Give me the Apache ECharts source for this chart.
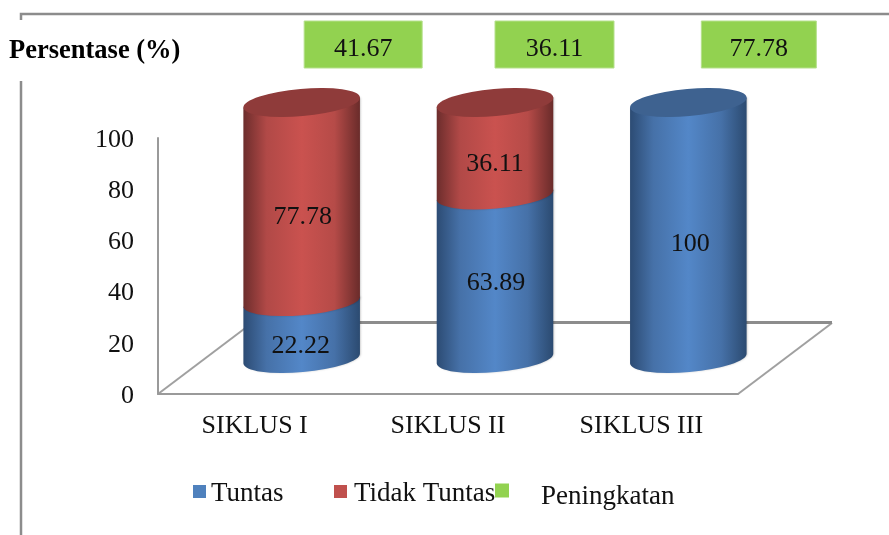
<!DOCTYPE html>
<html>
<head>
<meta charset="utf-8">
<title>Persentase</title>
<script src="https://cdn.jsdelivr.net/npm/echarts@6/dist/echarts.min.js"></script>
<style>
  html, body { margin: 0; padding: 0; background: #fff; }
  #chart { width: 889px; height: 535px; }
</style>
</head>
<body>
<div id="chart"></div>
<script>
const categories = ['SIKLUS I', 'SIKLUS II', 'SIKLUS III'];
const tuntas = [22.22, 63.89, 100];
const tidakTuntas = [77.78, 36.11, 0];
const peningkatan = [41.67, 36.11, 77.78];

const FONT = '"Liberation Serif", serif';
const TEXT = '#111';
const GREY = '#8c8c8c';

// depth of the fake 3d floor: cylinders stand half way back
const DX = 47, DY = -35.5;
// tilted ellipse of a cylinder section
const RX = 58.5, RY = 13.6, TILT = 5;
const endX = RX * Math.cos(TILT * Math.PI / 180);
const endY = RX * Math.sin(TILT * Math.PI / 180);

const sideStops = {
  Tuntas: ['#2c4b73', '#4671a8', '#5387c8', '#4671a8', '#2b4a70'],
  'Tidak Tuntas': ['#6c2d2c', '#b14947', '#ca524f', '#b64b48', '#692b2a']
};
const capColor = { Tuntas: '#3e6290', 'Tidak Tuntas': '#8f3b3a' };
// labels were moved by hand in the original
const labelNudge = { Tuntas: [[-1, 16], [1, 6], [2, 14]], 'Tidak Tuntas': [[1, 15], [0, 15], [0, 0]] };

function cylinder(name) {
  return function (params, api) {
    const i = api.value(0), from = api.value(1), to = api.value(2);
    if (to <= from) return { type: 'group', children: [] };
    const b = api.coord([i, from]), t = api.coord([i, to]);
    const cx = b[0] + DX, by = b[1] + DY, ty = t[1] + DY;
    const side = 'M' + (cx - endX) + ' ' + (ty + endY) +
      ' L' + (cx + endX) + ' ' + (ty - endY) +
      ' L' + (cx + endX) + ' ' + (by - endY) +
      ' A' + RX + ' ' + RY + ' ' + (-TILT) + ' 0 1 ' + (cx - endX) + ' ' + (by + endY) + ' Z';
    const cap = 'M' + (cx - endX) + ' ' + (ty + endY) +
      ' A' + RX + ' ' + RY + ' ' + (-TILT) + ' 0 1 ' + (cx + endX) + ' ' + (ty - endY) +
      ' A' + RX + ' ' + RY + ' ' + (-TILT) + ' 0 1 ' + (cx - endX) + ' ' + (ty + endY) + ' Z';
    const stops = sideStops[name];
    const children = [{
      type: 'path',
      shape: { pathData: side },
      style: {
        fill: {
          type: 'linear', x: 0, y: 0, x2: 1, y2: 0,
          colorStops: [
            { offset: 0, color: stops[0] },
            { offset: 0.2, color: stops[1] },
            { offset: 0.5, color: stops[2] },
            { offset: 0.78, color: stops[3] },
            { offset: 1, color: stops[4] }
          ]
        },
        shadowColor: 'rgba(0,0,0,0.18)',
        shadowBlur: 2,
        shadowOffsetX: 1
      }
    }];
    if (to >= 100) {
      children.push({ type: 'path', shape: { pathData: cap }, style: { fill: capColor[name] } });
    }
    const nudge = labelNudge[name][i];
    children.push({
      type: 'text',
      style: {
        text: String(to - from === 100 ? 100 : +(to - from).toFixed(2)),
        x: cx + nudge[0],
        y: (by + ty) / 2 + nudge[1],
        align: 'center',
        verticalAlign: 'middle',
        font: '26px ' + FONT,
        fill: TEXT
      }
    });
    return { type: 'group', children: children };
  };
}

// green value boxes float above the cylinders, not centred on them
const boxShift = [108.5, 106.5, 117.5];
const boxWidth = [118, 119, 115];

function valueBox(params, api) {
  const i = api.value(0);
  const mid = api.coord([i, 0])[0] + boxShift[i];
  return {
    type: 'group',
    children: [{
      type: 'rect',
      shape: { x: mid - boxWidth[i] / 2, y: 21, width: boxWidth[i], height: 47 },
      style: { fill: '#92d250', stroke: '#b5e08c', lineWidth: 1 }
    }, {
      type: 'text',
      style: {
        text: api.value(1).toFixed(2),
        x: mid,
        y: 49,
        align: 'center',
        verticalAlign: 'middle',
        font: '26px ' + FONT,
        fill: TEXT
      }
    }]
  };
}

const myChart = echarts.init(document.getElementById('chart'), null, { renderer: 'canvas' });

// rich text so the labels can sit a little lower than their symbol
function legendText(top, left) {
  return {
    fontFamily: FONT, fontSize: 27, color: TEXT,
    rich: { t: { fontFamily: FONT, fontSize: 27, color: TEXT, padding: [top, 0, 0, left] } }
  };
}

myChart.setOption({
  animation: false,
  backgroundColor: '#fff',
  grid: { left: 158, right: 151, top: 138, bottom: 141 },
  xAxis: {
    type: 'category',
    data: categories,
    axisTick: { show: false },
    axisLine: { lineStyle: { color: '#9a9a9a', width: 2 } },
    axisLabel: { fontFamily: FONT, fontSize: 26, color: TEXT, margin: 19 }
  },
  yAxis: {
    type: 'value',
    min: 0,
    max: 100,
    interval: 20,
    splitLine: { show: false },
    axisTick: { show: false },
    axisLine: { show: true, lineStyle: { color: '#9a9a9a', width: 2 } },
    axisLabel: {
      fontFamily: FONT, fontSize: 26, color: TEXT, margin: 24,
      formatter: '{v|{value}}',
      rich: { v: { fontFamily: FONT, fontSize: 26, color: TEXT, padding: [4, 0, 0, 0] } }
    }
  },
  legend: [
    { data: ['Tuntas'], left: 188, top: 475, icon: 'rect', itemWidth: 13, itemHeight: 13,
      formatter: '{t|{name}}', textStyle: legendText(4, 0) },
    { data: ['Tidak Tuntas'], left: 329, top: 475, icon: 'rect', itemWidth: 13, itemHeight: 13,
      formatter: '{t|{name}}', textStyle: legendText(4, 2) },
    { data: ['Peningkatan'], left: 490, top: 478, icon: 'rect', itemWidth: 14, itemHeight: 14,
      formatter: '{t|{name}}', textStyle: legendText(12, 27) }
  ],
  graphic: [
    // frame of the pasted picture
    { type: 'polyline', z: 0, shape: { points: [[21, 20], [21, 14], [889, 14]] }, style: { stroke: GREY, lineWidth: 2.5, fill: null } },
    { type: 'line', z: 0, shape: { x1: 21, y1: 81, x2: 21, y2: 535 }, style: { stroke: GREY, lineWidth: 2.5 } },
    // floor, the back edge is heavier than the sides
    { type: 'polyline', z: 0, shape: { points: [[158, 394], [252, 323]] }, style: { stroke: '#a0a0a0', lineWidth: 2, fill: null } },
    { type: 'polyline', z: 0, shape: { points: [[738, 394], [832, 323]] }, style: { stroke: '#a0a0a0', lineWidth: 2, fill: null } },
    { type: 'line', z: 0, shape: { x1: 252, y1: 322.5, x2: 832, y2: 322.5 }, style: { stroke: GREY, lineWidth: 3 } },
    { type: 'text', z: 10, style: { text: 'Persentase (%)', x: 9, y: 51, verticalAlign: 'middle', font: 'bold 26.5px ' + FONT, fill: '#000' } }
  ],
  series: [
    {
      name: 'Tuntas', type: 'custom', z: 5,
      itemStyle: { color: '#4f81bd' },
      data: tuntas.map(function (v, i) { return [i, 0, v]; }),
      encode: { x: 0, y: [1, 2] },
      renderItem: cylinder('Tuntas')
    },
    {
      name: 'Tidak Tuntas', type: 'custom', z: 6,
      itemStyle: { color: '#c0504d' },
      data: tidakTuntas.map(function (v, i) { return [i, tuntas[i], tuntas[i] + v]; }),
      encode: { x: 0, y: [1, 2] },
      renderItem: cylinder('Tidak Tuntas')
    },
    {
      name: 'Peningkatan', type: 'custom', z: 4,
      itemStyle: { color: '#92d250' },
      data: peningkatan.map(function (v, i) { return [i, v]; }),
      encode: { x: 0, y: 1 },
      clip: false,
      renderItem: valueBox
    }
  ]
});

window.addEventListener('resize', function () {
  myChart.resize();
});
</script>
</body>
</html>
